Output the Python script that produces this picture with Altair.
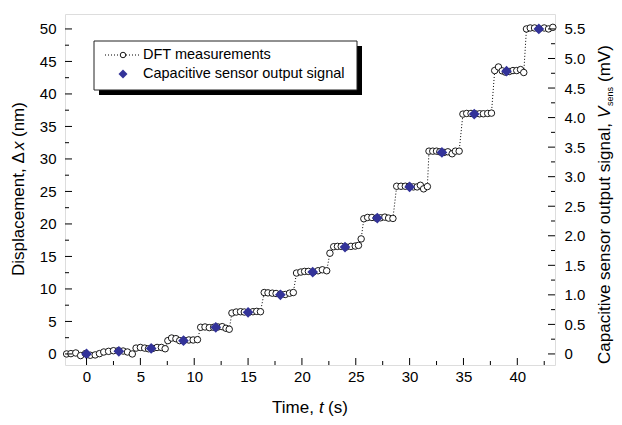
import altair as alt
import pandas as pd

# ---------------- data ----------------
dft_t = [-1.85, -1.45, -1.0, -0.55, -0.1, 0.35, 0.8, 1.2,
         1.6, 2.05, 2.5, 2.95, 3.4, 3.8, 4.25,
         4.6, 5.0, 5.4, 5.75, 6.15, 6.55, 6.95, 7.3,
         7.55, 7.9, 8.3, 8.65, 9.05, 9.5, 9.9, 10.3,
         10.6, 11.0, 11.4, 11.8, 12.2, 12.6, 12.95, 13.25,
         13.5, 13.9, 14.3, 14.65, 15.05, 15.45, 15.8, 16.15,
         16.5, 16.85, 17.25, 17.6, 18.0, 18.45, 18.85, 19.2,
         19.5, 19.9, 20.25, 20.6, 21.05, 21.5, 21.9, 22.3,
         22.6, 22.95, 23.3, 23.65, 24.1, 24.55, 24.95, 25.25, 25.5,
         25.75, 26.1, 26.5, 26.9, 27.3, 27.7, 28.05, 28.45,
         28.8, 29.2, 29.6, 29.95, 30.35, 30.7, 31.0, 31.3, 31.65,
         31.8, 32.15, 32.5, 32.8, 33.2, 33.55, 33.95, 34.25, 34.6,
         34.95, 35.3, 35.7, 36.1, 36.5, 36.85, 37.25, 37.6,
         37.9, 38.25, 38.6, 38.9, 39.25, 39.6, 39.95, 40.3, 40.6,
         40.85, 41.2, 41.6, 42.0, 42.5, 42.9, 43.3]
dft_nm = [0.0, 0.05, 0.15, -0.25, 0.05, -0.2, -0.15, 0.05,
          0.3, 0.4, 0.5, 0.5, 0.45, 0.3, 0.0,
          0.9, 1.0, 0.9, 0.8, 0.85, 1.0, 1.0, 0.8,
          2.05, 2.45, 2.35, 2.05, 2.1, 2.15, 2.15, 2.2,
          4.1, 4.15, 4.05, 4.1, 4.15, 4.2, 3.95, 3.8,
          6.3, 6.45, 6.5, 6.45, 6.4, 6.5, 6.55, 6.5,
          9.45, 9.4, 9.35, 9.3, 9.2, 9.15, 9.35, 9.45,
          12.45, 12.6, 12.7, 12.7, 12.6, 12.8, 12.95, 12.8,
          15.5, 16.5, 16.55, 16.55, 16.45, 16.55, 16.6, 16.7, 17.7,
          20.8, 21.0, 21.0, 20.9, 20.95, 21.05, 20.9, 20.85,
          25.8, 25.8, 25.8, 25.8, 25.7, 25.7, 25.95, 25.4, 25.75,
          31.2, 31.2, 31.2, 31.1, 31.0, 31.1, 30.8, 31.2, 31.2,
          36.9, 37.0, 37.0, 36.95, 36.95, 36.95, 37.0, 37.05,
          43.6, 44.15, 43.55, 43.35, 43.45, 43.6, 43.6, 43.75, 43.3,
          50.0, 50.15, 50.15, 50.0, 50.15, 50.0, 50.25]

cap_t = [0, 3, 6, 9, 12, 15, 18, 21, 24, 27, 30, 33, 36, 39, 42]
cap_nm = [0.0, 0.4, 0.85, 2.05, 4.1, 6.4, 9.1, 12.6, 16.45, 20.9, 25.7, 31.0, 36.9, 43.5, 50.0]

x_major = [0, 5, 10, 15, 20, 25, 30, 35, 40]
x_minor = [2.5, 7.5, 12.5, 17.5, 22.5, 27.5, 32.5, 37.5, 42.5]
y_major = [0, 5, 10, 15, 20, 25, 30, 35, 40, 45, 50]
y_minor = [2.5, 7.5, 12.5, 17.5, 22.5, 27.5, 32.5, 37.5, 42.5, 47.5]
r_major = [0, 0.5, 1.0, 1.5, 2.0, 2.5, 3.0, 3.5, 4.0, 4.5, 5.0, 5.5]
r_minor = [0.25, 0.75, 1.25, 1.75, 2.25, 2.75, 3.25, 3.75, 4.25, 4.75, 5.25]

legend_labels = ["DFT measurements", "Capacitive sensor output signal"]

# ---------------- layout ----------------
W, H = 490, 351
FONT = "Liberation Sans"
NAVY = "#333399"

xs = alt.Scale(domain=[-2, 43.5], nice=False, zero=False)
ys = alt.Scale(domain=[-1.7, 52.3], nice=False, zero=False)
rs = alt.Scale(domain=[-0.187, 5.753], nice=False, zero=False)

dft = pd.DataFrame({"t": dft_t, "nm": dft_nm})
cap = pd.DataFrame({"t": cap_t, "nm": cap_nm})
one = pd.DataFrame({"k": [0]})

xaxis = alt.Axis(values=x_major, ticks=False, tickSize=0, domain=False, grid=False,
                 labelPadding=4, labelFontSize=15, labelFont=FONT, labelColor="black")
yaxis = alt.Axis(values=y_major, ticks=False, tickSize=0, domain=False, grid=False,
                 labelPadding=9, labelFontSize=15, labelFont=FONT, labelColor="black")
raxis = alt.Axis(orient="right", values=r_major, ticks=False, tickSize=0, domain=False, grid=False,
                 labelPadding=9, labelFontSize=15, labelFont=FONT, labelColor="black",
                 labelExpr="datum.value == 0 ? '0' : format(datum.value, '.1f')")

X = alt.X("t:Q", scale=xs, axis=xaxis, title=None)
Y = alt.Y("nm:Q", scale=ys, axis=yaxis, title=None)

line = alt.Chart(dft).mark_line(color="black", strokeWidth=1, strokeDash=[1, 2]).encode(x=X, y=Y)
circles = alt.Chart(dft).mark_point(shape="circle", filled=True, fill="white", stroke="black",
                                    strokeWidth=0.9, size=42, opacity=1).encode(x=X, y=Y)
diamonds = alt.Chart(cap).mark_point(shape="diamond", filled=True, color=NAVY, size=115,
                                     opacity=1).encode(x=X, y=Y)

def xticks(vals, ln):
    return alt.Chart(pd.DataFrame({"v": vals})).mark_rule(color="black", strokeWidth=1).encode(
        x=alt.X("v:Q", scale=xs, axis=xaxis, title=None), y=alt.value(H), y2=alt.value(H - ln))

def yticks(vals, ln):
    return alt.Chart(pd.DataFrame({"v": vals})).mark_rule(color="black", strokeWidth=1).encode(
        y=alt.Y("v:Q", scale=ys, axis=yaxis, title=None), x=alt.value(0), x2=alt.value(ln))

def rticks(vals, ln):
    return alt.Chart(pd.DataFrame({"v": vals})).mark_rule(color="black", strokeWidth=1).encode(
        y=alt.Y("v:Q", scale=rs, axis=raxis, title=None), x=alt.value(W), x2=alt.value(W - ln))

def txt(s, x, y, size=17, angle=0, style="normal", align="left", baseline="middle"):
    kw = dict(text=s, font=FONT, fontSize=size, color="black", align=align, baseline=baseline,
              fontStyle=style)
    if angle:
        kw["angle"] = angle
    return alt.Chart(one).mark_text(**kw).encode(x=alt.value(x), y=alt.value(y))

# legend box
shadow = alt.Chart(one).mark_rect(color="black").encode(
    x=alt.value(34), x2=alt.value(297), y=alt.value(32), y2=alt.value(81))
box = alt.Chart(one).mark_rect(fill="white", stroke="#222222", strokeWidth=1).encode(
    x=alt.value(29), x2=alt.value(292), y=alt.value(27), y2=alt.value(76))
leg_line = alt.Chart(one).mark_rule(color="black", strokeWidth=1, strokeDash=[1, 2]).encode(
    x=alt.value(40), x2=alt.value(76), y=alt.value(41))
leg_circle = alt.Chart(one).mark_point(shape="circle", filled=True, fill="white", stroke="black",
                                       strokeWidth=0.9, size=30, opacity=1).encode(
    x=alt.value(58), y=alt.value(41))
leg_diamond = alt.Chart(one).mark_point(shape="diamond", filled=True, color=NAVY, size=80,
                                        opacity=1).encode(x=alt.value(58), y=alt.value(60))
leg_t1 = txt(legend_labels[0], 78, 41, size=14.5)
leg_t2 = txt(legend_labels[1], 78, 60, size=14.5)

# axis titles (with italic parts)
TY = 394
xt = [txt("Time,", 207, TY), txt("t", 254, TY, style="italic"), txt("(s)", 263, TY)]
LX = -46
yt = [txt("Displacement, \u0394", LX, 262, angle=270),
      txt("x", LX, 136, angle=270, style="italic"),
      txt("(nm)", LX, 123, angle=270)]
RX = 540
RS = 350
rt = [txt("Capacitive sensor output signal,", RX, RS, angle=270),
      txt("V", RX, RS - 246, angle=270, style="italic"),
      txt("sens", RX + 5, RS - 258, size=9, angle=270),
      txt("(mV)", RX, RS - 282, angle=270)]

left = alt.layer(line, circles, diamonds,
                 xticks(x_major, 7), xticks(x_minor, 4),
                 yticks(y_major, 7), yticks(y_minor, 4),
                 shadow, box, leg_line, leg_circle, leg_diamond, leg_t1, leg_t2,
                 *xt, *yt, *rt)
right = alt.layer(rticks(r_major, 7), rticks(r_minor, 4))

chart = alt.layer(left, right).resolve_scale(y="independent").properties(
    width=W, height=H,
    padding={"left": 57, "top": 6, "right": 59, "bottom": 52},
    autosize=alt.AutoSizeParams(type="none"),
).configure_view(stroke="black", strokeWidth=1).configure(background="white")

chart.save("out.html", embed_options={"renderer": "svg", "actions": False})
